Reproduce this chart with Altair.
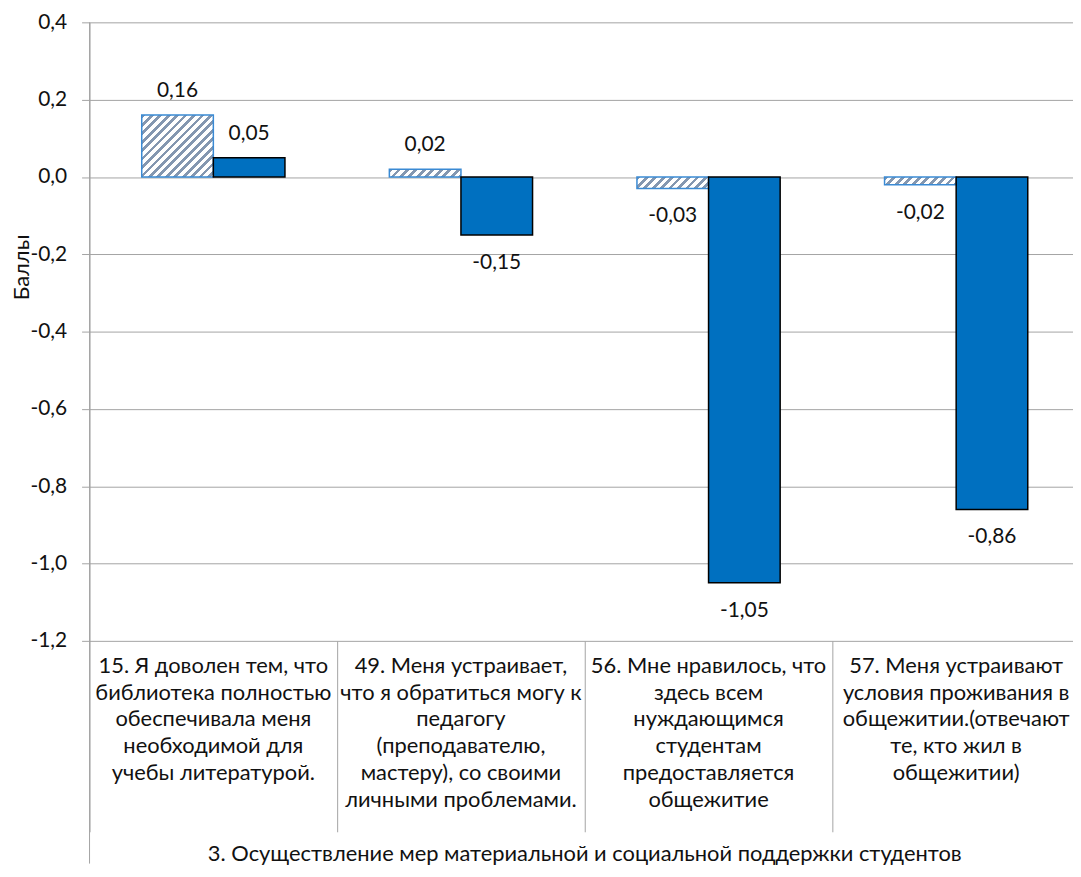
import altair as alt
import pandas as pd

# ---------------- data ----------------
questions = ["q15", "q49", "q56", "q57"]
question_texts = [
    "15. Я доволен тем, что\nбиблиотека полностью\nобеспечивала меня\nнеобходимой для\nучебы литературой.",
    "49. Меня устраивает,\nчто  я обратиться могу к\nпедагогу\n(преподавателю,\nмастеру),  со своими\nличными проблемами.",
    "56. Мне нравилось, что\nздесь всем\nнуждающимся\nстудентам\nпредоставляется\nобщежитие",
    "57. Меня устраивают\nусловия проживания в\nобщежитии.(отвечают\nте, кто жил в\nобщежитии)",
]
series = ["Ряд 1", "Ряд 2"]          # hatched, solid
values_hatched = [0.16, 0.02, -0.03, -0.02]
values_solid = [0.05, -0.15, -1.05, -0.86]
group_label = "3. Осуществление  мер материальной и социальной поддержки студентов"
y_ticks = [0.4, 0.2, 0.0, -0.2, -0.4, -0.6, -0.8, -1.0, -1.2]
y_title = "Баллы"

# ---------------- layout / style ----------------
FONT = "Lato"
FS = 22
FS_NUM = 21
GRID = "#A3A3A3"
W, H = 989, 622
PAD = {"left": 82, "top": 12, "right": 0, "bottom": 224}
X_RANGE = [0, 996]
Y_DOMAIN = [-1.2, 0.4]
PX_PER_UNIT = H / (Y_DOMAIN[1] - Y_DOMAIN[0])
BAR_W = 72
SOLID = "#0070C0"
HATCH_EDGE = "#3A8AD4"
HATCH_LINE = "#8497B0"
TXT = "#111111"

df = pd.DataFrame({
    "q": questions * 2,
    "s": [series[0]] * 4 + [series[1]] * 4,
    "v": values_hatched + values_solid,
})
cat_df = pd.DataFrame({"q": questions, "t": question_texts})
grp_df = pd.DataFrame({"g": [group_label]})


def hatch(w, h, period=8.5, duty=0.45, color=HATCH_LINE):
    """Diagonal '/' stripes built as a hard-stop linear gradient."""
    h = max(h, 1.0)
    L = w + h
    k = L / (w * w + h * h)
    stops = []
    i = 0
    while i * period < L:
        a = i * period / L
        b = min((i * period + period * duty) / L, 1.0)
        c = min((i + 1) * period / L, 1.0)
        stops += [
            {"offset": a, "color": color},
            {"offset": b, "color": color},
            {"offset": b, "color": "white"},
            {"offset": c, "color": "white"},
        ]
        i += 1
    return {"gradient": "linear", "x1": 0, "y1": 0, "x2": k * w, "y2": k * h, "stops": stops}


fmt2 = "replace(replace(format(datum.v, '.2f'), '.', ','), '\u2212', '-')"
fmt1 = "replace(replace(format(datum.value, '.1f'), '.', ','), '\u2212', '-')"

x_enc = alt.X(
    "q:N",
    scale=alt.Scale(domain=questions, range=X_RANGE, paddingInner=0, paddingOuter=0),
    axis=alt.Axis(labels=False, domain=False, ticks=True, tickBand="extent",
                  tickSize=192, tickColor=GRID, tickWidth=1, grid=False, title=None),
)
xo_enc = alt.XOffset("s:N", scale=alt.Scale(domain=series, paddingInner=0, paddingOuter=0.729))
y_enc = alt.Y(
    "v:Q",
    scale=alt.Scale(domain=Y_DOMAIN, nice=False, zero=False),
    axis=alt.Axis(values=y_ticks, labelExpr=fmt1, title=y_title,
                  grid=True, gridColor=GRID, gridWidth=1,
                  domainColor=GRID, domainWidth=1, tickColor=GRID, tickSize=8,
                  labelPadding=15, labelFont=FONT, labelFontSize=FS_NUM, labelColor=TXT,
                  titleFont=FONT, titleFontSize=FS, titleFontWeight="normal",
                  titleColor=TXT, titleX=-68, titleY=246, titleAngle=270,
                  titleAlign="center", titleBaseline="middle"),
)

base = alt.Chart(df).encode(x=x_enc, xOffset=xo_enc, y=y_enc)

layers = []
for q, v in zip(questions, values_hatched):
    layers.append(
        base.transform_filter(f"datum.s == '{series[0]}' && datum.q == '{q}'")
        .mark_bar(fill=hatch(BAR_W, abs(v) * PX_PER_UNIT), stroke=HATCH_EDGE, strokeWidth=1.5)
    )
layers.append(
    base.transform_filter(f"datum.s == '{series[1]}'")
    .mark_bar(fill=SOLID, stroke="black", strokeWidth=1.5)
)

lab = base.transform_calculate(lab=fmt2)
layers.append(
    lab.transform_filter("datum.v >= 0")
    .mark_text(dy=-24, font=FONT, fontSize=FS_NUM, color=TXT)
    .encode(text="lab:N")
)
layers.append(
    lab.transform_filter("datum.v < 0")
    .mark_text(dy=28, font=FONT, fontSize=FS_NUM, color=TXT)
    .encode(text="lab:N")
)

cats = alt.Chart(cat_df).mark_text(
    lineBreak="\n", baseline="top", lineHeight=27, font=FONT, fontSize=FS,
    color=TXT, align="center",
).encode(x=alt.X("q:N"), y=alt.value(637), text="t:N")

grp = alt.Chart(grp_df).mark_text(
    font=FONT, fontSize=FS, color=TXT, align="center", baseline="middle"
).encode(x=alt.value(498), y=alt.value(836), text="g:N")

left_line = alt.Chart(grp_df).mark_rule(color=GRID, strokeWidth=1).encode(
    x=alt.value(0), y=alt.value(0), y2=alt.value(846)
)

chart = alt.layer(*layers, cats, grp, left_line).properties(
    width=W, height=H,
    autosize=alt.AutoSizeParams(type="none"),
    padding=PAD,
).configure_view(strokeWidth=0)

chart.save("out.html", embed_options={"renderer": "svg", "actions": False})
